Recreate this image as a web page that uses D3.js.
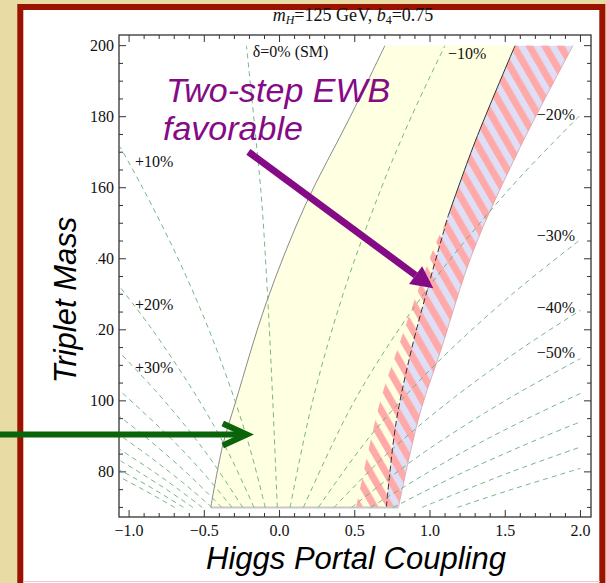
<!DOCTYPE html>
<html><head><meta charset="utf-8">
<script src="https://cdn.jsdelivr.net/npm/d3@7"></script>
<style>body{margin:0;background:#E8DCA4;} svg{display:block}</style>
</head><body>
<svg id="c" width="606" height="583"></svg>
<script>
// ---------------- data ----------------
const xTicks = [-1.0, -0.5, 0.0, 0.5, 1.0, 1.5, 2.0];
const xTickLabels = ["\u22121.0", "\u22120.5", "0.0", "0.5", "1.0", "1.5", "2.0"];
const yTicks = [80, 100, 120, 140, 160, 180, 200];
const yTickLabels = ["80", "100", "120", "140", "160", "180", "200"];

// region boundaries [coupling, mass]
const yellowLeft = [[-0.457,70],[-0.38,87],[-0.29,100],[-0.085,128],[0.17,155],[0.47,180],[0.70,200]];
const blackLine  = [[0.71,70],[0.775,94],[0.88,115],[1.0,134],[1.12,152],[1.3,173],[1.565,200]];
const hatchLeft  = [[0.51,70],[0.67,100],[0.78,114],[1.02,142.5],[1.12,152]];
const bandRight  = [[0.79,70],[0.93,96],[1.07,114],[1.29,142.5],[1.59,170.6],[1.95,200]];

// contour lines of delta (dashed green)
const contourLevels = ["+100%","+90%","+80%","+70%","+60%","+50%","+40%","+30%","+20%","+10%","0%",
  "\u221210%","\u221220%","\u221230%","\u221240%","\u221250%","\u221260%","\u221270%","\u221280%","\u221290%"];
const contourPoints = [
  [[-0.696,70],[-0.906,75],[-1.06,78.5]],
  [[-0.638,70],[-0.831,75],[-0.953,78],[-1.06,80.5]],
  [[-0.576,70],[-0.75,75],[-0.936,80],[-1.06,83.2]],
  [[-0.514,70],[-0.669,75],[-0.835,80],[-1.06,86.3]],
  [[-0.45,70],[-0.586,75],[-0.732,80],[-0.886,85],[-1.06,90.3]],
  [[-0.384,70],[-0.624,80],[-0.896,90],[-1.06,95.5]],
  [[-0.316,70],[-0.513,80],[-0.736,90],[-1.06,102.8]],
  [[-0.245,70],[-0.482,85],[-0.765,100],[-1.06,113.5]],
  [[-0.17,70],[-0.335,85],[-0.533,100],[-0.845,120],[-1.06,132]],
  [[-0.095,70],[-0.186,85],[-0.296,100],[-0.469,120],[-0.674,140],[-0.91,160],[-1.06,171.5]],
  [[-0.015,70],[-0.045,100],[-0.08,130],[-0.118,156],[-0.16,175],[-0.22,200]],
  [[0.07,70],[0.22,100],[0.422,130],[0.677,160],[0.876,180],[1.099,200]],
  [[0.159,70],[0.498,100],[0.957,130],[1.535,160],[2.0,180.5]],
  [[0.258,70],[0.601,90],[1.03,110],[1.545,130],[2.0,145.4]],
  [[0.362,70],[0.713,85],[1.132,100],[1.618,115],[2.0,125.5]],
  [[0.479,70],[0.943,85],[1.497,100],[2.0,111.9]],
  [[0.606,70],[1.193,85],[1.647,95],[2.0,102.1]],
  [[0.755,70],[1.227,80],[1.762,90],[2.0,94.1]],
  [[0.947,70],[1.539,80],[2.0,87]],
  [[1.182,70],[1.539,75],[2.0,81]]
];

// contour label texts and anchors [coupling, mass]
const labelTexts = ["\u03b4=0% (SM)", "\u221210%", "+10%", "+20%", "+30%", "\u221220%", "\u221230%", "\u221240%", "\u221250%"];
const labelAnchors = [[-0.178,196.9],[1.12,196.2],[-0.96,165.9],[-0.96,125.5],[-0.96,107.9],[1.709,179.1],[1.709,145.1],[1.709,124.6],[1.709,112.2]];

// ---------------- drawing ----------------
const W = 606, H = 583;
const svg = d3.select("#c");
const x = d3.scaleLinear().domain([-1.067, 2.07]).range([119, 591]);
const y = d3.scaleLinear().domain([67.3, 203]).range([517, 35]);

svg.append("rect").attr("width", W).attr("height", H).attr("fill", "#E8DCA4");
// slide frame
svg.append("rect").attr("x", 20.3).attr("y", 7).attr("width", 582).attr("height", 590)
  .attr("fill", "#fff").attr("stroke", "#9B1200").attr("stroke-width", 6);
svg.append("line").attr("x1", 23).attr("x2", 600).attr("y1", 581.5).attr("y2", 581.5)
  .attr("stroke", "#f2c8c4").attr("stroke-width", 1);

const defs = svg.append("defs");
defs.append("clipPath").attr("id", "plotclip").append("rect")
  .attr("x", 119).attr("y", 35).attr("width", 472).attr("height", 482);
const pat = defs.append("pattern").attr("id", "hatch").attr("patternUnits", "userSpaceOnUse")
  .attr("width", 13.5).attr("height", 13.5).attr("patternTransform", "rotate(-30)");
pat.append("rect").attr("x", 0).attr("y", 0).attr("width", 7).attr("height", 13.5).attr("fill", "#FFA9A9");

const curve = d3.line().x(d => x(d[0])).y(d => y(d[1])).curve(d3.curveCatmullRom.alpha(0.5));
function region(left, right) {
  const a = curve(left);
  const b = curve(right.slice().reverse());
  return a + b.replace(/^M/, "L") + "Z";
}

const g = svg.append("g").attr("clip-path", "url(#plotclip)");
// yellow region
g.append("path").attr("d", region(yellowLeft, blackLine)).attr("fill", "#FFFFE2");
// lavender band
g.append("path").attr("d", region(blackLine, bandRight)).attr("fill", "#DEDEF6");
// hatch over band
const hatchBoundary = hatchLeft.concat(blackLine.filter(d => d[1] > 152));
g.append("path").attr("d", region(hatchBoundary, bandRight)).attr("fill", "url(#hatch)");
// boundaries
g.append("path").attr("d", curve(yellowLeft)).attr("fill", "none").attr("stroke", "#8a8a8a").attr("stroke-width", 1);
g.append("path").attr("d", curve(blackLine.filter(d => d[1] >= 152))).attr("fill", "none").attr("stroke", "#333").attr("stroke-width", 1);
g.append("path").attr("d", curve(blackLine.filter(d => d[1] <= 152))).attr("fill", "none").attr("stroke", "#333")
  .attr("stroke-width", 1).attr("stroke-dasharray", "6,3");
g.append("path").attr("d", curve(bandRight)).attr("fill", "none").attr("stroke", "#d7a0a8").attr("stroke-width", 0.8);
g.append("line").attr("x1", x(yellowLeft[0][0])).attr("x2", x(bandRight[0][0]))
  .attr("y1", y(70)).attr("y2", y(70)).attr("stroke", "#c8c8c8").attr("stroke-width", 2);

// contour lines
g.selectAll("path.ct").data(contourPoints).join("path").attr("class", "ct")
  .attr("d", d => curve(d)).attr("fill", "none").attr("stroke", "#68ae7a").attr("stroke-opacity", 0.9)
  .attr("stroke-width", 1).attr("stroke-dasharray", "5,4");

// contour labels
svg.selectAll("text.cl").data(labelTexts).join("text").attr("class", "cl")
  .attr("x", (d, i) => x(labelAnchors[i][0])).attr("y", (d, i) => y(labelAnchors[i][1]))
  .attr("font-family", "Liberation Serif, Times New Roman, serif").attr("font-size", 16)
  .attr("fill", "#111").text(d => d);

// frame and ticks
svg.append("rect").attr("x", 119).attr("y", 35).attr("width", 472).attr("height", 482)
  .attr("fill", "none").attr("stroke", "#333").attr("stroke-width", 1.3);
const tk = svg.append("g").attr("stroke", "#333").attr("stroke-width", 1);
const xMinor = d3.range(-10, 21).map(i => i / 10);
xMinor.forEach(v => {
  const major = Math.abs(v * 2 - Math.round(v * 2)) < 1e-6;
  const L = major ? 7 : 4;
  tk.append("line").attr("x1", x(v)).attr("x2", x(v)).attr("y1", 517).attr("y2", 517 - L);
  tk.append("line").attr("x1", x(v)).attr("x2", x(v)).attr("y1", 35).attr("y2", 35 + L);
});
const yMinor = d3.range(70, 201, 5);
yMinor.forEach(v => {
  const major = v % 20 === 0;
  const L = major ? 7 : 4;
  tk.append("line").attr("y1", y(v)).attr("y2", y(v)).attr("x1", 119).attr("x2", 119 + L);
  tk.append("line").attr("y1", y(v)).attr("y2", y(v)).attr("x1", 591).attr("x2", 591 - L);
});
svg.selectAll("text.xt").data(xTicks).join("text").attr("class", "xt")
  .attr("x", d => x(d)).attr("y", 536).attr("text-anchor", "middle")
  .attr("font-family", "Liberation Serif, serif").attr("font-size", 16).attr("fill", "#111")
  .text((d, i) => xTickLabels[i]);
svg.selectAll("text.yt").data(yTicks).join("text").attr("class", "yt")
  .attr("x", 114).attr("y", d => y(d) + 5.5).attr("text-anchor", "end")
  .attr("font-family", "Liberation Serif, serif").attr("font-size", 16).attr("fill", "#111")
  .text((d, i) => yTickLabels[i]);

// title
const tt = svg.append("text").attr("x", 353).attr("y", 21).attr("text-anchor", "middle")
  .attr("font-family", "Liberation Serif, serif").attr("font-size", 18).attr("fill", "#111");
tt.append("tspan").attr("font-style", "italic").text("m");
tt.append("tspan").attr("font-style", "italic").attr("font-size", 12).attr("dy", 3).text("H");
tt.append("tspan").attr("dy", -3).text("=125 GeV, ");
tt.append("tspan").attr("font-style", "italic").text("b");
tt.append("tspan").attr("font-size", 12).attr("dy", 3).text("4");
tt.append("tspan").attr("dy", -3).text("=0.75");

// axis labels
svg.append("rect").attr("x", 44).attr("y", 205).attr("width", 52).attr("height", 185).attr("fill", "#fff");
svg.append("text").attr("transform", "translate(76,300) rotate(-90)").attr("text-anchor", "middle")
  .attr("font-family", "Liberation Sans, Arial, sans-serif").attr("font-style", "italic")
  .attr("font-size", 31).attr("fill", "#000").text("Triplet Mass");
svg.append("text").attr("x", 356).attr("y", 569).attr("text-anchor", "middle")
  .attr("font-family", "Liberation Sans, Arial, sans-serif").attr("font-style", "italic")
  .attr("font-size", 31).attr("fill", "#000").text("Higgs Portal Coupling");

// annotation
const purple = "#850A85";
const ann = svg.append("text").attr("font-family", "Liberation Sans, Arial, sans-serif")
  .attr("font-style", "italic").attr("font-size", 34).attr("fill", purple);
ann.append("tspan").attr("x", 166).attr("y", 102).text("Two-step EWB");
ann.append("tspan").attr("x", 163).attr("y", 140).text("favorable");

// purple arrow
const p0 = [x(-0.207), y(170.1)], p1 = [x(1.022), y(131.7)];
const ang = Math.atan2(p1[1] - p0[1], p1[0] - p0[0]);
const headL = 22, headW = 11;
const base = [p1[0] - headL * Math.cos(ang), p1[1] - headL * Math.sin(ang)];
svg.append("line").attr("x1", p0[0]).attr("y1", p0[1]).attr("x2", base[0]).attr("y2", base[1])
  .attr("stroke", purple).attr("stroke-width", 7);
svg.append("path").attr("d", d3.line()([
  p1,
  [base[0] + headW * Math.sin(ang), base[1] - headW * Math.cos(ang)],
  [base[0] - headW * Math.sin(ang), base[1] + headW * Math.cos(ang)]
]) + "Z").attr("fill", purple);

// green arrow
const green = "#0A650A";
const gy = y(90.5), gx = x(-0.218);
svg.append("line").attr("x1", 0).attr("x2", gx - 3).attr("y1", gy).attr("y2", gy)
  .attr("stroke", green).attr("stroke-width", 6);
svg.append("path").attr("d", d3.line()([[gx - 24, gy - 11], [gx, gy], [gx - 24, gy + 11]]))
  .attr("fill", "none").attr("stroke", green).attr("stroke-width", 6).attr("stroke-linejoin", "miter");
</script>
</body></html>
